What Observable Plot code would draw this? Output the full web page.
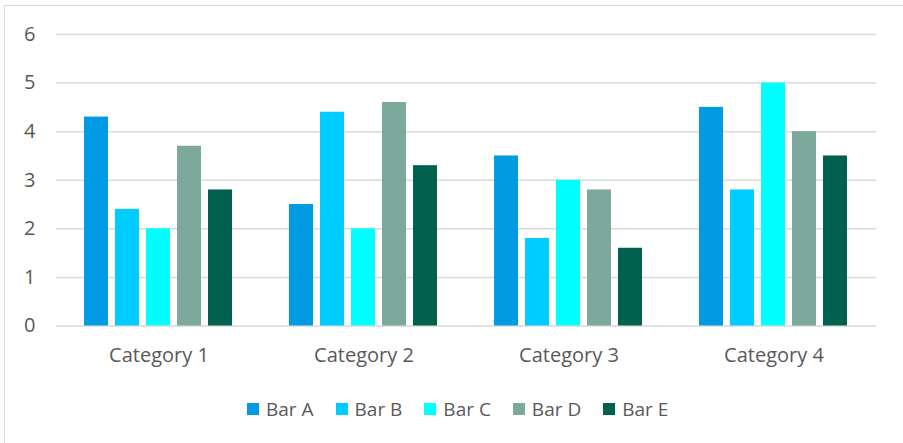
<!DOCTYPE html>
<html><head><meta charset="utf-8">
<script src="https://cdn.jsdelivr.net/npm/d3@7"></script>
<script src="https://cdn.jsdelivr.net/npm/@observablehq/plot@0.6"></script>
<style>
body{margin:0;background:#fff;font-family:"Open Sans",sans-serif;}
#wrap{position:relative;width:903px;height:443px;overflow:hidden;background:#fff;}
#frame{position:absolute;left:4px;top:5px;width:940px;height:480px;border:1.5px solid #d9d9d9;box-sizing:border-box;}
#chart{position:absolute;left:0;top:0;}
#legend{position:absolute;left:247px;top:392px;}
.lg-swatch{margin-right:22px !important;}
.lg-swatch > svg{margin-right:7px !important;}
</style></head>
<body>
<div id="wrap"><div id="frame"></div><div id="chart"></div><div id="legend"></div></div>
<script>
const categories = ["Category 1", "Category 2", "Category 3", "Category 4"];
const series = ["Bar A", "Bar B", "Bar C", "Bar D", "Bar E"];
const barA = [4.3, 2.5, 3.5, 4.5];
const barB = [2.4, 4.4, 1.8, 2.8];
const barC = [2.0, 2.0, 3.0, 5.0];
const barD = [3.7, 4.6, 2.8, 4.0];
const barE = [2.8, 3.3, 1.6, 3.5];
const colors = ["#009BE2", "#00CCFF", "#00FFFF", "#7DA89C", "#00614F"];
const yTicks = [0, 1, 2, 3, 4, 5, 6];

const values = [barA, barB, barC, barD, barE];
const data = [];
categories.forEach((c, i) => series.forEach((s, j) => data.push({category: c, series: s, value: values[j][i]})));

const chart = Plot.plot({
  width: 903, height: 380,
  marginLeft: 55, marginRight: 26, marginTop: 34, marginBottom: 54.5,
  style: {fontFamily: "Open Sans", fontSize: "20px", color: "#595959", background: "transparent"},
  fx: {domain: categories, padding: 0, label: null, axis: "bottom", tickSize: 0, tickPadding: 22},
  x: {domain: series, axis: null, paddingInner: 0.22, paddingOuter: 0.87},
  y: {domain: [0, 6], ticks: yTicks, tickFormat: "d", axis: "left", tickSize: 0, tickPadding: 21, label: null},
  color: {domain: series, range: colors},
  marks: [
    Plot.ruleY(yTicks, {stroke: "#d9d9d9", strokeWidth: 1.5}),
    Plot.barY(data, {fx: "category", x: "series", y: "value", fill: "series"})
  ]
});
document.getElementById("chart").appendChild(chart);

const legend = Plot.legend({
  color: {domain: series, range: colors},
  legend: "swatches", swatchSize: 12, className: "lg",
  style: {fontFamily: "Open Sans", fontSize: "19px", color: "#595959"}
});
document.getElementById("legend").appendChild(legend);
</script>
</body></html>
